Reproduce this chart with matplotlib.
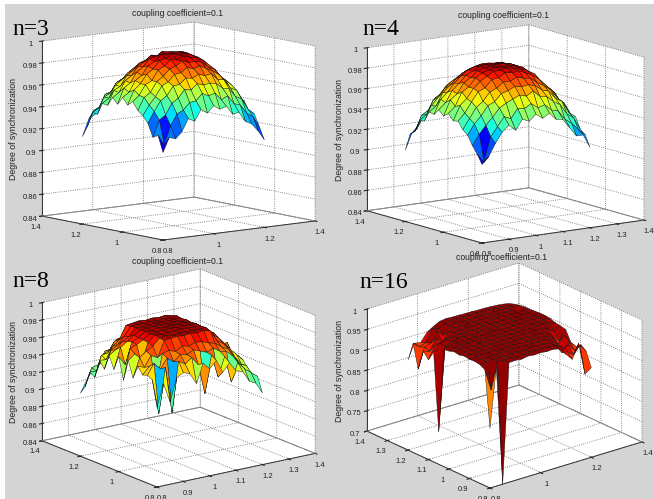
import numpy as np
import matplotlib
matplotlib.use("Agg")
import matplotlib.pyplot as plt
from matplotlib.colors import Normalize
from matplotlib.patches import Rectangle
from mpl_toolkits.mplot3d import proj3d

axis_values = [0.8, 0.825, 0.85, 0.875, 0.9, 0.925, 0.95, 0.975, 1.0, 1.025, 1.05, 1.075, 1.1, 1.125, 1.15, 1.175, 1.2]

z_n3 = [
    [.920, .933, .931, .937, .948, .945, .955, .951, .957, .953, .955, .947, .948, .939, .936, .929, .920],
    [.935, .925, .942, .952, .955, .961, .962, .968, .965, .967, .960, .963, .955, .953, .945, .941, .931],
    [.932, .947, .951, .961, .965, .972, .971, .976, .974, .975, .974, .969, .968, .960, .957, .947, .942],
    [.944, .954, .963, .967, .975, .976, .981, .980, .983, .981, .982, .976, .975, .967, .964, .954, .943],
    [.950, .959, .966, .975, .978, .984, .985, .989, .987, .989, .986, .983, .979, .973, .968, .957, .952],
    [.954, .965, .969, .978, .982, .988, .990, .994, .992, .992, .991, .986, .983, .976, .971, .962, .954],
    [.961, .966, .975, .978, .987, .990, .995, .994, .997, .995, .994, .991, .986, .981, .972, .967, .957],
    [.957, .970, .975, .983, .987, .994, .995, .999, .997, .998, .996, .993, .989, .981, .976, .966, .961],
    [.963, .967, .977, .981, .989, .992, .998, .997, .999, .998, .997, .992, .988, .983, .974, .969, .958],
    [.956, .970, .974, .983, .987, .994, .995, .999, .998, .997, .997, .992, .989, .981, .976, .966, .961],
    [.961, .965, .975, .979, .987, .990, .995, .994, .996, .995, .993, .992, .986, .981, .972, .968, .956],
    [.953, .966, .969, .978, .982, .988, .990, .994, .992, .993, .991, .989, .983, .978, .969, .964, .953],
    [.954, .958, .969, .973, .979, .983, .987, .987, .989, .987, .987, .982, .979, .973, .968, .957, .951],
    [.943, .958, .961, .970, .973, .978, .979, .983, .981, .983, .979, .978, .973, .970, .961, .956, .945],
    [.944, .947, .959, .961, .969, .970, .975, .975, .977, .975, .975, .970, .969, .962, .957, .949, .939],
    [.930, .944, .947, .957, .958, .966, .966, .970, .968, .970, .966, .965, .959, .957, .947, .942, .931],
    [.920, .935, .939, .948, .950, .957, .957, .961, .960, .961, .958, .956, .951, .947, .939, .934, .923],
]

z_n4 = [
    [.917, .924, .936, .946, .952, .946, .956, .953, .959, .954, .958, .951, .950, .941, .932, .932, .919],
    [.926, .917, .941, .950, .959, .956, .965, .964, .968, .963, .965, .959, .957, .948, .943, .936, .930],
    [.933, .943, .951, .958, .966, .970, .973, .976, .974, .978, .972, .971, .965, .961, .951, .946, .934],
    [.942, .952, .959, .968, .971, .978, .980, .983, .982, .983, .981, .976, .974, .966, .962, .950, .945],
    [.946, .956, .966, .971, .979, .982, .987, .987, .990, .988, .987, .982, .978, .973, .964, .958, .946],
    [.953, .960, .970, .979, .982, .989, .990, .994, .993, .994, .991, .988, .983, .976, .970, .960, .953],
    [.952, .966, .972, .981, .987, .991, .995, .995, .997, .995, .994, .991, .987, .979, .972, .966, .954],
    [.958, .964, .977, .981, .989, .993, .995, .997, .996, .997, .995, .993, .987, .982, .972, .967, .955],
    [.954, .969, .974, .984, .988, .994, .996, .996, .998, .997, .996, .993, .988, .981, .974, .965, .958],
    [.959, .965, .976, .982, .989, .992, .996, .997, .996, .997, .995, .993, .987, .983, .972, .968, .954],
    [.953, .967, .973, .981, .987, .992, .994, .996, .996, .995, .995, .990, .987, .979, .973, .964, .956],
    [.954, .959, .971, .977, .983, .988, .991, .993, .993, .993, .990, .988, .982, .978, .968, .961, .950],
    [.944, .958, .965, .973, .979, .983, .987, .989, .989, .989, .987, .982, .979, .972, .965, .955, .948],
    [.943, .948, .961, .966, .974, .976, .981, .981, .984, .981, .981, .977, .972, .967, .957, .952, .939],
    [.931, .946, .950, .961, .964, .971, .972, .976, .974, .976, .972, .970, .964, .959, .951, .942, .936],
    [.927, .931, .944, .949, .957, .959, .965, .964, .968, .964, .966, .959, .956, .950, .940, .933, .925],
    [.910, .926, .933, .944, .944, .954, .955, .960, .956, .960, .954, .954, .946, .944, .931, .928, .916],
]

z_n8 = [
    [.932, .958, .935, .962, .966, .963, .950, .972, .964, .972, .957, .966, .955, .953, .940, .936, .923],
    [.962, .921, .973, .919, .977, .972, .978, .968, .933, .976, .949, .971, .940, .961, .952, .946, .940],
    [.965, .977, .969, .980, .974, .981, .979, .983, .980, .977, .980, .975, .973, .966, .955, .952, .931],
    [.963, .971, .945, .983, .985, .982, .987, .985, .988, .987, .984, .982, .976, .972, .961, .951, .944],
    [.971, .968, .980, .976, .994, .995, .996, .995, .996, .995, .996, .994, .981, .976, .968, .960, .952],
    [.955, .977, .983, .987, .995, .996, .995, .996, .995, .996, .995, .996, .987, .980, .972, .958, .955],
    [.973, .979, .967, .989, .996, .995, .996, .996, .997, .996, .996, .995, .988, .984, .966, .970, .952],
    [.948, .983, .986, .990, .995, .996, .996, .997, .996, .997, .996, .996, .990, .984, .976, .961, .957],
    [.973, .962, .987, .990, .996, .995, .997, .996, .997, .996, .997, .995, .990, .985, .963, .972, .950],
    [.956, .980, .985, .991, .995, .996, .996, .997, .996, .997, .995, .996, .989, .986, .976, .955, .958],
    [.970, .975, .983, .987, .996, .995, .996, .996, .996, .996, .996, .995, .988, .980, .974, .965, .947],
    [.952, .972, .977, .985, .995, .996, .995, .996, .995, .996, .995, .996, .986, .982, .970, .961, .952],
    [.960, .959, .973, .979, .994, .995, .996, .995, .996, .995, .996, .994, .983, .974, .970, .951, .945],
    [.938, .962, .963, .975, .977, .983, .986, .987, .987, .986, .985, .981, .977, .973, .959, .959, .938],
    [.942, .941, .959, .963, .973, .975, .980, .980, .982, .980, .979, .975, .970, .963, .958, .943, .940],
    [.923, .943, .945, .959, .960, .968, .970, .973, .971, .973, .969, .967, .960, .958, .946, .940, .926],
    [.913, .927, .938, .942, .952, .955, .960, .963, .962, .963, .959, .955, .952, .942, .939, .927, .921],
]

z_n16 = [
    [.847, .992, .700, .994, .995, .993, .996, .994, .995, .993, .994, .990, .972, .955, .990, .909, .920],
    [.985, .930, .996, .995, .996, .994, .995, .996, .994, .995, .993, .992, .985, .968, .955, .975, .955],
    [.992, .994, .995, .996, .994, .996, .995, .994, .996, .994, .995, .993, .982, .960, .975, .955, .965],
    [.994, .995, .994, .995, .996, .995, .996, .995, .995, .996, .994, .995, .990, .975, .955, .970, .955],
    [.993, .996, .995, .996, .995, .994, .995, .996, .994, .995, .996, .994, .993, .985, .965, .982, .960],
    [.995, .994, .996, .995, .994, .996, .995, .995, .996, .995, .994, .996, .994, .992, .975, .962, .985],
    [.992, .995, .994, .996, .995, .995, .996, .994, .995, .996, .995, .994, .996, .994, .990, .978, .988],
    [.994, .996, .995, .994, .996, .995, .994, .996, .995, .994, .996, .995, .994, .996, .995, .993, .990],
    [.990, .994, .996, .995, .995, .996, .995, .995, .994, .996, .995, .995, .996, .994, .995, .996, .994],
    [.988, .993, .995, .994, .996, .995, .994, .996, .995, .995, .994, .996, .995, .995, .996, .994, .996],
    [.780, .985, .992, .996, .995, .994, .996, .995, .994, .996, .995, .994, .996, .995, .994, .995, .996],
    [.970, .988, .990, .992, .995, .996, .995, .994, .996, .995, .995, .996, .994, .995, .996, .994, .995],
    [.945, .975, .965, .985, .993, .994, .996, .995, .995, .994, .996, .995, .995, .996, .994, .996, .994],
    [.960, .955, .982, .968, .990, .995, .994, .996, .995, .996, .994, .995, .996, .994, .995, .955, .994],
    [.911, .960, .965, .990, .975, .992, .996, .995, .994, .995, .996, .994, .995, .996, .994, .994, .992],
    [.968, .955, .960, .990, .985, .994, .995, .996, .996, .994, .995, .994, .994, .993, .992, .990, .989],
    [.921, .958, .955, .975, .985, .993, .995, .994, .994, .993, .993, .992, .992, .991, .990, .988, .985],
]

surfaces = [z_n3, z_n4, z_n8, z_n16]
names = ["n=3", "n=4", "n=8", "n=16"]
title = "coupling coefficient=0.1"
zlabel = "Degree of synchronization"

x_ticks = [[0.8, 1, 1.2, 1.4], [0.8, 0.9, 1, 1.1, 1.2, 1.3, 1.4], [0.8, 0.9, 1, 1.1, 1.2, 1.3, 1.4], [0.8, 1, 1.2, 1.4]]
y_ticks = [[0.8, 1, 1.2, 1.4], [0.8, 1, 1.2, 1.4], [0.8, 1, 1.2, 1.4], [0.8, 0.9, 1, 1.1, 1.2, 1.3, 1.4]]
z_ticks = [[0.84, 0.86, 0.88, 0.9, 0.92, 0.94, 0.96, 0.98, 1]] * 3 + [[0.7, 0.75, 0.8, 0.85, 0.9, 0.95, 1]]
color_lims = [(.912, 1.0), (.905, 1.0), (.885, 1.0), (.7, 1.0)]
# which corner of a cell gives its colour: 0 near, 1 far
color_corner = [0, 0, 0, 1]

# view, box height, then pixel corners of the box (left, front, right) from the top left
views = [(9.05, -128.5), (11.5, -125.4), (17, -126), (22, -129)]
box_z = [.912, .837, .739, .673]
corners = [((42, 216), (163, 240), (315, 221)),
           ((367, 211), (482, 243), (644, 220)),
           ((42, 441), (157, 487), (315, 453)),
           ((367, 430), (490, 488), (642, 443))]
title_pos = [(177, 13), (503, 15), (177, 261), (501, 258)]
name_pos = [(12, 35), (362, 35), (12, 287), (359, 288)]
label_pos = [(14, 129), (339, 130), (14, 372), (339, 371)]

W, H = 654, 499
BG = "#d4d4d4"

plt.rcParams["font.family"] = ["Liberation Sans", "DejaVu Sans"]
plt.rcParams["grid.linestyle"] = ":"
plt.rcParams["grid.color"] = "#666666"
plt.rcParams["grid.linewidth"] = 0.6
plt.rcParams["axes.linewidth"] = 0.6


def fmt(v):
    return f"{v:g}"


def place_box(ax, left, right, front):
    # scale and move the axes so the box corners land on the wanted pixels
    def px(x, y, z):
        vx, vy, _ = proj3d.proj_transform(x, y, z, ax.get_proj())
        return ax.transData.transform((vx, vy))

    zmin = ax.get_zlim()[0]
    for _ in range(2):
        ax.apply_aspect()
        pl = px(0.8, 1.4, zmin)
        pr = px(1.4, 0.8, zmin)
        pos = ax.get_position()
        k = (right[0] - left[0]) / (pr[0] - pl[0])
        ax.set_position([pos.x0, pos.y0, pos.width * k, pos.height * k])
        ax.apply_aspect()
        pf = px(0.8, 0.8, zmin)
        pos = ax.get_position()
        dx = (front[0] - pf[0]) / W
        dy = ((H - front[1]) - pf[1]) / H
        ax.set_position([pos.x0 + dx, pos.y0 + dy, pos.width, pos.height])


fig = plt.figure(figsize=(W / 100, H / 100), dpi=100, facecolor=BG)
fig.add_artist(Rectangle((0, 0), 5 / W, 1, transform=fig.transFigure, color="white", lw=0, zorder=-5))
fig.add_artist(Rectangle((0, 1 - 4 / H), 1, 4 / H, transform=fig.transFigure, color="white", lw=0, zorder=-5))

X, Y = np.meshgrid(axis_values, axis_values)

for i in range(4):
    Z = np.array(surfaces[i])
    zmin = z_ticks[i][0]
    ax = fig.add_axes([0.1, 0.1, 0.4, 0.5], projection="3d", proj_type="ortho")
    ax.set_facecolor("none")
    ax.view_init(elev=views[i][0], azim=views[i][1])
    ax.set_box_aspect((1, 1, box_z[i]))

    norm = Normalize(*color_lims[i])
    colors = plt.cm.jet(norm(Z))
    if color_corner[i]:
        colors[:-1, :-1] = plt.cm.jet(norm(Z[1:, 1:]))
    surf = ax.plot_surface(X, Y, Z, facecolors=colors, rstride=1, cstride=1, shade=False)
    surf.set_edgecolor("#111111")
    surf.set_linewidth(0.3)

    # back edges of the floor
    ax.plot([0.8, 1.4], [1.4, 1.4], [zmin, zmin], color="#888888", lw=0.7)
    ax.plot([1.4, 1.4], [0.8, 1.4], [zmin, zmin], color="#888888", lw=0.7)

    ax.set_xlim(0.8, 1.4, view_margin=0)
    ax.set_ylim(0.8, 1.4, view_margin=0)
    ax.set_zlim(zmin, 1, view_margin=0)
    ax.set_xticks(x_ticks[i])
    ax.set_yticks(y_ticks[i])
    ax.set_zticks(z_ticks[i])
    ax.set_xticklabels([fmt(v) for v in x_ticks[i]])
    ax.set_yticklabels([fmt(v) for v in y_ticks[i]])
    ax.set_zticklabels([fmt(v) for v in z_ticks[i]])
    ax.tick_params(labelsize=5.5, pad=-3, length=2, width=0.4, colors="#222222")
    for axis in (ax.xaxis, ax.yaxis, ax.zaxis):
        axis.set_pane_color((1, 1, 1, 1))
        axis.pane.set_edgecolor("none")
        axis.line.set_color("#333333")
        axis.line.set_linewidth(0.7)

    place_box(ax, corners[i][0], corners[i][2], corners[i][1])

    fig.text(title_pos[i][0] / W, 1 - title_pos[i][1] / H, title, fontsize=6.2, color="#222222", ha="center", va="center")
    fig.text(name_pos[i][0] / W, 1 - name_pos[i][1] / H, names[i], fontsize=17, family="Liberation Serif", ha="left", va="baseline")
    fig.text(label_pos[i][0] / W, 1 - label_pos[i][1] / H, zlabel, fontsize=6.3, color="#222222", rotation=90, ha="center", va="center")

fig.savefig("out.png", dpi=100, facecolor=BG)
